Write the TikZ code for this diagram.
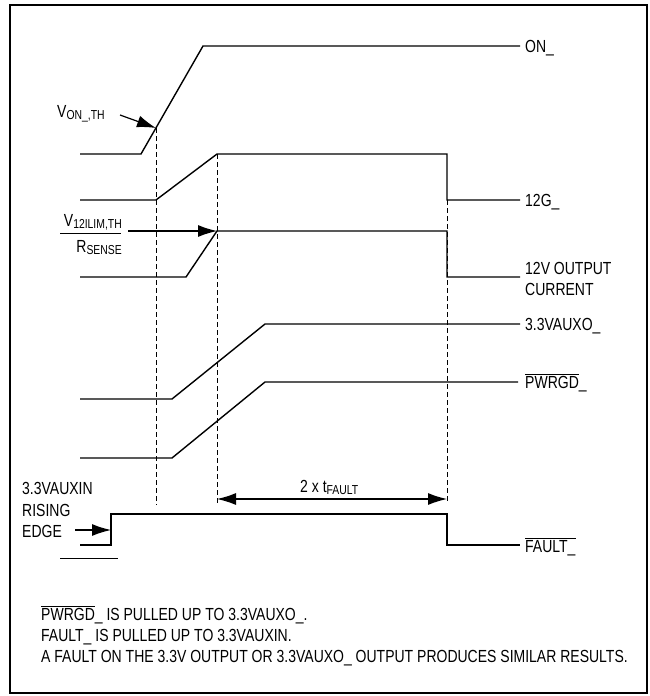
\documentclass[tikz,border=0pt]{standalone}
\usepackage{fontspec}
\setmainfont{Liberation Sans}[FakeStretch=0.8]
\usetikzlibrary{arrows.meta}

\newcommand{\lowsub}[1]{\raisebox{-0.3ex}{\fontsize{13}{15}\selectfont #1}}
\newcommand{\barred}[1]{$\overline{\mbox{#1}}$}

\begin{document}
\begin{tikzpicture}[x=1pt, y=-1pt,
    font=\fontsize{17.5}{21}\selectfont,
    sig/.style={line width=1.4pt},
    guide/.style={line width=0.8pt, dash pattern=on 5pt off 3pt},
    lbl/.style={anchor=base west, inner sep=0pt},
    pointer/.style={line width=1.2pt, -{Latex[length=19pt,width=12pt]}}]
    \useasboundingbox (0,0) rectangle (650,696);
    % Frame
    \draw[line width=2pt] (10,5) rectangle (647,693);

    % ON_
    \draw[sig] (80,154) -- (141,154) -- (203,46) -- (520,46);
    \coordinate (onTh) at (156,128);
    % 12G_
    \draw[sig] (80,200) -- (156,200) -- (217,154) coordinate (gHigh) -- (447,154) -- (447,200) coordinate (gOff) -- (520,200);
    % 12V output current
    \draw[sig] (80,277) -- (186,277) -- (217,231) coordinate (iLim) -- (447,231) -- (447,277) -- (520,277);
    % 3.3VAUXO_
    \draw[sig] (80,399) -- (172,399) -- (265,324) -- (520,324);
    % PWRGD_
    \draw[sig] (80,458) -- (172,458) -- (265,382) -- (518,382);
    % FAULT_
    \draw[sig] (80,545) -- (111,545) -- (111,514) -- (447,514) -- (447,545) -- (520,545);
    \coordinate (auxEdge) at (111,530);
    \draw[line width=1pt] (60,558) -- (118,558);

    % timing guides
    \draw[guide] (onTh) -- (156,505) coordinate (gdA);
    \draw[guide] (gHigh) -- (217,505) coordinate (gdB);
    \draw[guide] (gOff) -- (447,503) coordinate (gdC);

    % threshold pointers
    \coordinate (onFrom) at (120,115);
    \draw[pointer] (onFrom) -- (onTh);
    \coordinate (iFrom) at (128,231);
    \draw[pointer] (iFrom) -- (iLim);
    \coordinate (edgeFrom) at (75,530);
    \draw[pointer] (edgeFrom) -- (auxEdge);

    % fault time
    \coordinate (tStart) at (217,499);
    \coordinate (tEnd) at (447,499);
    \draw[pointer, {Latex[length=19pt,width=12pt]}-{Latex[length=19pt,width=12pt]}] (tStart) -- (tEnd);
    \node[lbl] (tLbl) at (300,492) {2 x t\lowsub{FAULT}};

    % signal labels
    \node[lbl] (onLbl) at (525,52) {ON\_};
    \node[lbl] (gLbl) at (525,206) {12G\_};
    \node[lbl] (iLbl) at (525,274) {12V OUTPUT};
    \node[lbl] (iLblB) at (525,295) {CURRENT};
    \node[lbl] (auxLbl) at (525,330) {3.3VAUXO\_};
    \node[lbl] (pgLbl) at (525,388) {\barred{PWRGD}\_};
    \node[lbl] (fLbl) at (525,552) {\barred{FAULT\_}};

    % threshold labels
    \node[lbl] (onThLbl) at (57,117) {V\lowsub{ON\_,TH}};
    \node[anchor=base east, inner sep=0pt] (limNum) at (122,226) {V\lowsub{12ILIM,TH}};
    \draw[line width=0.8pt] (60,233) -- (121,233);
    \node[anchor=base east, inner sep=0pt] (limDen) at (122,252) {R\lowsub{SENSE}};
    \node[lbl] (edgeLbl) at (22,494) {3.3VAUXIN};
    \node[lbl] (edgeLblB) at (22,516) {RISING};
    \node[lbl] (edgeLblC) at (22,537) {EDGE};

    % notes
    \node[lbl] (noteA) at (41,620) {\barred{PWRGD}\_ IS PULLED UP TO 3.3VAUXO\_.};
    \node[lbl] (noteB) at (41,641) {FAULT\_ IS PULLED UP TO 3.3VAUXIN.};
    \node[lbl] (noteC) at (41,662) {A FAULT ON THE 3.3V OUTPUT OR 3.3VAUXO\_ OUTPUT PRODUCES SIMILAR RESULTS.};
\end{tikzpicture}
\end{document}
